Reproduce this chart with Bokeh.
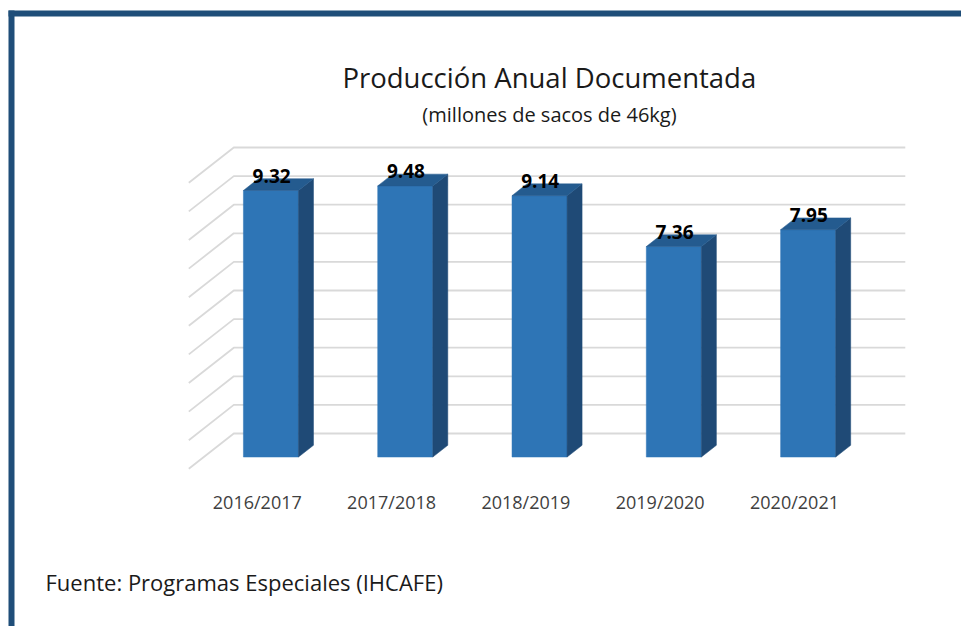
from bokeh.plotting import figure
from bokeh.models import Range1d, BoxAnnotation, Label, ColumnDataSource
from bokeh.core.properties import value
from bokeh.embed import file_html
from bokeh.resources import INLINE

# ---------------- data ----------------
categories = ["2016/2017", "2017/2018", "2018/2019", "2019/2020", "2020/2021"]
production = [9.32, 9.48, 9.14, 7.36, 7.95]
value_labels = ["9.32", "9.48", "9.14", "7.36", "7.95"]
grid_values = [0, 1, 2, 3, 4, 5, 6, 7, 8, 9, 10]
title_text = "Producción Anual Documentada"
subtitle_text = "(millones de sacos de 46kg)"
source_text = "Fuente: Programas Especiales (IHCAFE)"

# ---------------- layout ----------------
W, H = 961, 626
PX_X = 134.3      # px per category slot
PX_Y = 28.6       # px per value unit
ORIGIN_X = 188.3  # canvas px of floor front-left corner
ORIGIN_Y = 468.3  # canvas px (from top) of value 0 at front floor
x0 = -ORIGIN_X / PX_X
x1 = (W - ORIGIN_X) / PX_X
y1 = ORIGIN_Y / PX_Y
y0 = -(H - ORIGIN_Y) / PX_Y
DX = 45 / PX_X      # full depth offset (x)
DY = 35.3 / PX_Y    # full depth offset (y)
BAR_W = 0.41


def cx(px):
    return x0 + px / PX_X


def cy(py):
    return y1 - py / PX_Y


FRONT = "#2E75B6"
TOP = "#245B8F"
SIDE = "#1F4A76"
BORDER = "#1F4E79"
GRID = "#D9D9D9"

p = figure(width=W, height=H, output_backend="svg", toolbar_location=None,
           x_range=Range1d(x0, x1), y_range=Range1d(y0, y1),
           x_axis_location=None, y_axis_location=None, min_border=0)
p.outline_line_color = None
p.xgrid.visible = False
p.ygrid.visible = False
p.background_fill_color = "white"
p.border_fill_color = "white"

# ---------------- 3D gridlines (side diagonal + back wall) ----------------
n = len(categories)
gxs, gys = [], []
for g in grid_values:
    gxs.append([0, DX, n + DX])
    gys.append([g, g + DY, g + DY])
p.multi_line(xs=gxs, ys=gys, line_color=GRID, line_width=1.8)

# ---------------- bars ----------------
lefts, rights, tops, bottoms = [], [], [], []
top_xs, top_ys, side_xs, side_ys = [], [], [], []
for i, v in enumerate(production):
    c = i + 0.5
    L = c - BAR_W / 2 + DX / 3
    R = c + BAR_W / 2 + DX / 3
    B = DY / 3
    T = v + DY / 3
    lefts.append(L); rights.append(R); bottoms.append(B); tops.append(T)
    top_xs.append([L, L + DX / 3, R + DX / 3, R])
    top_ys.append([T, T + DY / 3, T + DY / 3, T])
    side_xs.append([R, R + DX / 3, R + DX / 3, R])
    side_ys.append([B, B + DY / 3, T + DY / 3, T])

p.quad(left=lefts, right=rights, bottom=bottoms, top=tops,
       fill_color=FRONT, line_color=FRONT, line_width=0.5)
p.patches(xs=side_xs, ys=side_ys, fill_color=SIDE, line_color=SIDE, line_width=0.5)
p.patches(xs=top_xs, ys=top_ys, fill_color=TOP, line_color=TOP, line_width=0.5)

# value labels
lab_src = ColumnDataSource(dict(
    x=[i + 0.5 + DX / 3 + 0.005 for i in range(n)],
    y=[v + DY * 2 / 3 + 0.1 for v in production],
    t=value_labels))
p.text(x="x", y="y", text="t", source=lab_src, text_align="center",
       text_baseline="alphabetic", text_font=value("Open Sans"),
       text_font_style="bold", text_font_size="19px", text_color="#000000")

# category labels
cat_src = ColumnDataSource(dict(
    x=[i + 0.5 + 0.01 for i in range(n)],
    y=[cy(501.5)] * n,
    t=categories))
p.text(x="x", y="y", text="t", source=cat_src, text_align="center",
       text_baseline="alphabetic", text_font=value("Open Sans"),
       text_font_size="18px", text_color="#404040")

# titles and source
p.add_layout(Label(x=cx(548.8), y=cy(77.3), text=title_text, text_align="center",
                   text_baseline="alphabetic", text_font="Open Sans",
                   text_font_size="27.5px", text_color="#1a1a1a"))
p.add_layout(Label(x=cx(549), y=cy(114), text=subtitle_text, text_align="center",
                   text_baseline="alphabetic", text_font="Open Sans",
                   text_font_size="20px", text_color="#1a1a1a"))
p.add_layout(Label(x=cx(45), y=cy(581), text=source_text, text_align="left",
                   text_baseline="alphabetic", text_font="Open Sans",
                   text_font_size="22px", text_color="#1a1a1a"))

# frame border (left and top)
p.add_layout(BoxAnnotation(left=cx(8), right=cx(14), top=cy(10), bottom=cy(H),
                           fill_color=BORDER, fill_alpha=1, line_color=None))
p.add_layout(BoxAnnotation(left=cx(8), right=cx(W), top=cy(10), bottom=cy(16),
                           fill_color=BORDER, fill_alpha=1, line_color=None))

open("out.html", "w").write(file_html(p, INLINE))
